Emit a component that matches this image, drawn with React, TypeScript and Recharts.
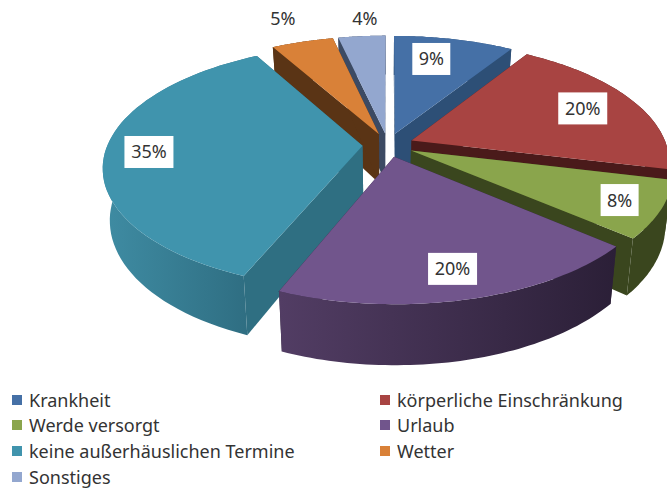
import { Legend, Pie, PieChart } from 'recharts';

const categories = ['Krankheit', 'körperliche Einschränkung', 'Werde versorgt', 'Urlaub', 'keine außerhäuslichen Termine', 'Wetter', 'Sonstiges'];
const shares = [8.9, 19.7, 7.5, 19.7, 35.49, 4.6, 3.5];
const topColors = ['#4570a6', '#a84442', '#8aa54c', '#71558c', '#4094ad', '#d98138', '#93a7cf'];
const cutColors = ['#2d4f76', '#4a1a1a', '#3a461e', '#2d2238', '#2f6f82', '#5a3415', '#3c4a63'];
const wallLeft = ['#2d4f76', '#4a1a1a', '#3a461e', '#523d64', '#3f8ca3', '#5a3415', '#3c4a63'];
const wallRight = ['#2d4f76', '#4a1a1a', '#3a461e', '#2b1f37', '#2e6c80', '#5a3415', '#3c4a63'];
// back to front, the order the exploded slices overlap in
const paintOrder = [0, 6, 5, 4, 1, 2, 3];
// how far out each percent label sits, as a share of the radius
const labelReach = [0.854, 0.87, 0.946, 0.916, 0.93, 1.406, 1.32];
// degrees the label is turned off the slice's middle
const labelTurn = [3, 0, 0, 0, 0, 0, -1.5];

const rows = categories.map((name, i) => ({ name, value: shares[i] }));

const TILT = 0.463;
const PERSPECTIVE = 0.17;
const EXPLODE = 0.1;
const TEXT = '#333333';
const FONT = '"Noto Sans", sans-serif';

function project(cx: number, cy: number, r: number, x: number, y: number) {
  const w = 1 - PERSPECTIVE * y;
  return { x: cx + (x * r) / w, y: cy + (y * r * TILT) / w };
}

// the lower face: same outline, pushed down and pulled in a little
function lower(cx: number, p: { x: number; y: number }, modelY: number) {
  return { x: cx + (p.x - cx) * 0.975, y: p.y + 50 + 10 * modelY };
}

const toPath = (pts: { x: number; y: number }[]) =>
  'M' + pts.map((p) => `${p.x.toFixed(1)},${p.y.toFixed(1)}`).join('L') + 'Z';

function Slice3D(props: any) {
  const { cx, cy, outerRadius: r, startAngle, endAngle, name } = props;
  const i = categories.indexOf(name);
  const mid = (((startAngle + endAngle) / 2) * Math.PI) / 180;
  const ox = EXPLODE * Math.cos(mid);
  const oy = -EXPLODE * Math.sin(mid);

  const model: { x: number; y: number }[] = [];
  const steps = 60;
  for (let s = 0; s <= steps; s++) {
    const a = ((startAngle + ((endAngle - startAngle) * s) / steps) * Math.PI) / 180;
    model.push({ x: ox + Math.cos(a), y: oy - Math.sin(a) });
  }
  const rim = model.map((m) => project(cx, cy, r, m.x, m.y));
  const rimLow = rim.map((p, k) => lower(cx, p, model[k].y));
  const apex = project(cx, cy, r, ox, oy);
  const apexLow = lower(cx, apex, oy);
  const last = rim.length - 1;
  const xs = rim.map((p) => p.x);
  const gradId = `wall-${i}`;

  return (
    <g>
      <defs>
        <linearGradient id={gradId} gradientUnits="userSpaceOnUse" x1={Math.min(...xs)} x2={Math.max(...xs)} y1={0} y2={0}>
          <stop offset="0%" stopColor={wallLeft[i]} />
          <stop offset="100%" stopColor={wallRight[i]} />
        </linearGradient>
      </defs>
      <path d={toPath([apex, rim[0], rimLow[0], apexLow])} fill={cutColors[i]} />
      <path d={toPath([apex, rim[last], rimLow[last], apexLow])} fill={cutColors[i]} />
      <path d={toPath([...rim, ...rimLow.slice().reverse()])} fill={`url(#${gradId})`} />
      <path d={toPath([apex, ...rim])} fill={topColors[i]} />
    </g>
  );
}

function PercentLabel(props: any) {
  const { cx, cy, outerRadius: r, midAngle, index, value } = props;
  const a = ((midAngle + labelTurn[index]) * Math.PI) / 180;
  const reach = labelReach[index];
  const p = project(cx, cy, r, reach * Math.cos(a), -reach * Math.sin(a));
  const text = `${Math.round(value)}%`;
  const w = 16 + text.length * 11;
  return (
    <g>
      <rect x={p.x - w / 2} y={p.y - 16} width={w} height={32} fill="#ffffff" />
      <text x={p.x} y={p.y + 6.5} textAnchor="middle" fontSize={18} fontFamily={FONT} fill={TEXT}>
        {text}
      </text>
    </g>
  );
}

function LegendBlock() {
  return (
    <div style={{ display: 'grid', gridTemplateColumns: '368px 287px', gridAutoRows: '25.6px', fontFamily: FONT, fontSize: 18, color: TEXT }}>
      {categories.map((name, i) => (
        <div key={name} style={{ display: 'flex', alignItems: 'center', whiteSpace: 'nowrap' }}>
          <span style={{ width: 10, height: 10, background: topColors[i], marginRight: 7 }} />
          {name}
        </div>
      ))}
    </div>
  );
}

export default function App() {
  return (
    <div style={{ position: 'absolute', left: 0, top: 0, width: 667, height: 488, overflow: 'hidden', background: '#ffffff' }}>
      <PieChart width={667} height={488} margin={{ top: 0, right: 0, bottom: 0, left: 0 }}>
        {paintOrder.map((i) => (
          <Pie
            key={categories[i]}
            data={rows}
            dataKey="value"
            nameKey="name"
            cx={388}
            cy={145}
            outerRadius={255}
            startAngle={90}
            endAngle={-270}
            stroke="none"
            isAnimationActive={false}
            shape={(p: any) => (p.name === categories[i] ? <Slice3D {...p} /> : <g />)}
          />
        ))}
        <Pie
          data={rows}
          dataKey="value"
          nameKey="name"
          cx={388}
          cy={145}
          outerRadius={255}
          startAngle={90}
          endAngle={-270}
          stroke="none"
          isAnimationActive={false}
          shape={() => <g />}
          label={PercentLabel}
          labelLine={false}
        />
        <Legend content={LegendBlock} wrapperStyle={{ position: 'absolute', left: 12, top: 387, width: 655, bottom: 'auto' }} />
      </PieChart>
    </div>
  );
}
